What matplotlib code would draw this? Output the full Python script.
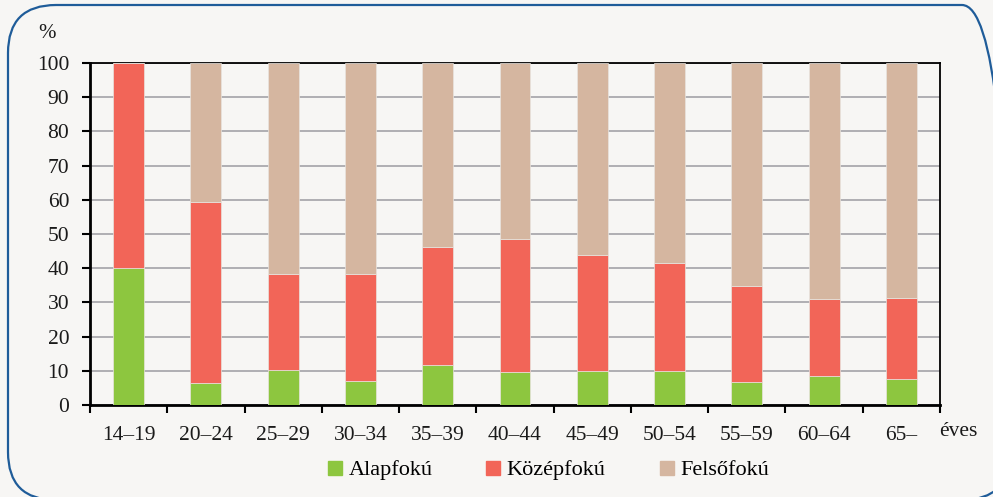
import numpy as np
import matplotlib
matplotlib.use("Agg")
import matplotlib.pyplot as plt
from matplotlib.patches import FancyBboxPatch
from matplotlib.lines import Line2D

plt.rcParams["font.family"] = ["Liberation Serif", "DejaVu Serif"]

categories = ["14–19", "20–24", "25–29", "30–34", "35–39", "40–44",
              "45–49", "50–54", "55–59", "60–64", "65–"]
alapfoku = [40.0, 6.3, 10.2, 7.0, 11.7, 9.7, 9.9, 9.9, 6.8, 8.5, 7.6]
kozepfoku_top = [100.0, 59.3, 38.2, 38.4, 46.3, 48.5, 43.9, 41.6, 34.9, 31.1, 31.4]
series_names = ["Alapfokú", "Középfokú", "Felsőfokú"]
colors = ["#8DC63F", "#F26558", "#D5B6A0"]

alap = np.array(alapfoku)
kozep = np.array(kozepfoku_top) - alap
felso = 100 - np.array(kozepfoku_top)

bg = "#F7F6F4"
W, H = 993, 497
fig = plt.figure(figsize=(W / 100, H / 100), dpi=100, facecolor=bg)

# rounded frame, drawn in pixel units on a full-figure axes
frame = fig.add_axes([0, 0, 1, 1])
frame.set_xlim(0, W)
frame.set_ylim(0, H)
frame.axis("off")
frame.add_patch(FancyBboxPatch((8, -3), 1002, 495,
                               boxstyle="round,pad=0,rounding_size=48",
                               facecolor="none", edgecolor="#1F5C99", linewidth=1.6))

ax = fig.add_axes([90 / W, 1 - 405 / H, 850 / W, 342 / H])
ax.set_facecolor(bg)

x = np.arange(len(categories))
w = 0.4
ax.bar(x, alap, w, color=colors[0], edgecolor="#E8E4DF", linewidth=0.5, zorder=3)
ax.bar(x, kozep, w, bottom=alap, color=colors[1], edgecolor="#E8E4DF", linewidth=0.5, zorder=3)
ax.bar(x, felso, w, bottom=alap + kozep, color=colors[2], edgecolor="#E8E4DF", linewidth=0.5, zorder=3)

ax.set_xlim(-0.5, len(categories) - 0.5)
ax.set_ylim(0, 100)
ax.set_yticks(range(0, 101, 10))
ax.yaxis.grid(True, color="#A3A3A8", linewidth=1.2, zorder=0)

ax.set_xticks(np.arange(-0.5, len(categories), 1.0))
ax.set_xticklabels([])
ax.set_xticks(x, minor=True)
ax.set_xticklabels(categories, minor=True)
ax.tick_params(axis="x", which="major", direction="out", length=6, width=1.5, color="black")
ax.tick_params(axis="x", which="minor", length=0, pad=15, labelsize=15.5, labelcolor="#1a1a1a")
ax.tick_params(axis="y", direction="out", length=6, width=1.5, pad=9,
               labelsize=15.5, labelcolor="#1a1a1a")

for side in ["left", "bottom"]:
    ax.spines[side].set_linewidth(2.0)
for side in ["top", "right"]:
    ax.spines[side].set_linewidth(1.3)

fig.text(47 / W, 1 - 33 / H, "%", fontsize=15, ha="center", va="center", color="#1a1a1a")
fig.text(958 / W, 1 - 432 / H, "éves", fontsize=15.5, ha="center", va="center", color="#1a1a1a")

handles = [Line2D([], [], marker="s", linestyle="none", markersize=10,
                  markerfacecolor=c, markeredgecolor=c) for c in colors]
fig.legend(handles, series_names, loc="center", bbox_to_anchor=(548 / W, 1 - 470 / H),
           ncol=3, frameon=False, fontsize=16, handletextpad=0.25,
           columnspacing=2.4, handlelength=0.7)

fig.savefig("out.png", dpi=100, facecolor=bg)
